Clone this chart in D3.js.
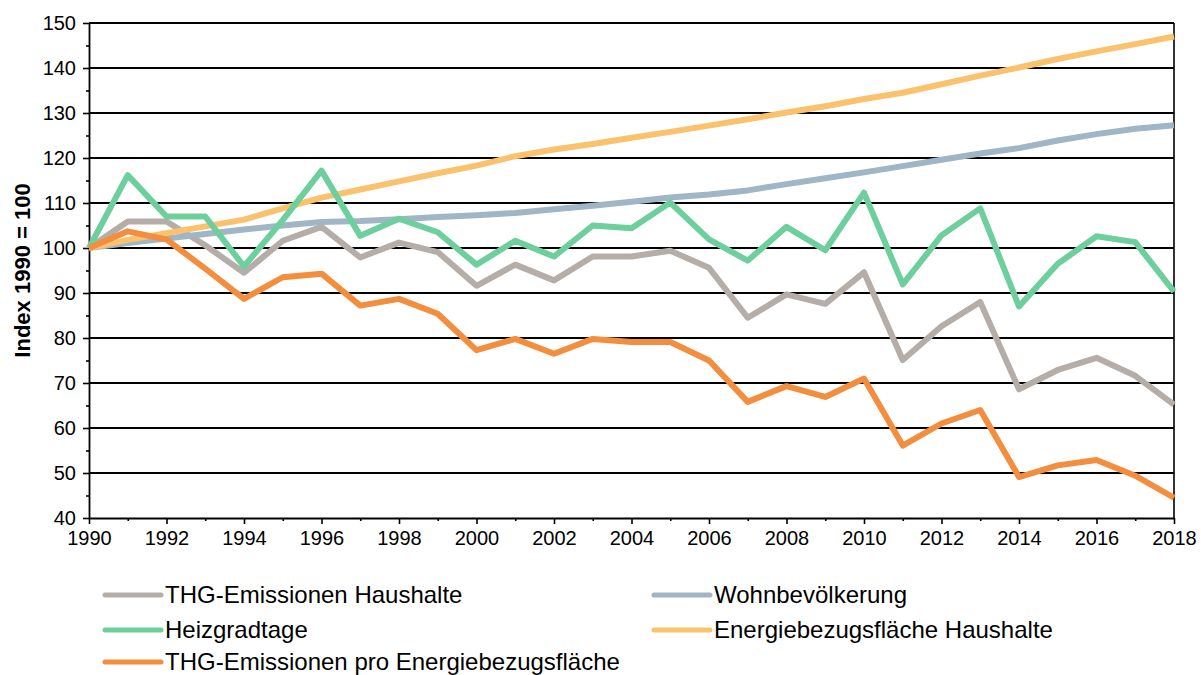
<!DOCTYPE html>
<html>
<head>
<meta charset="utf-8">
<script src="https://cdn.jsdelivr.net/npm/d3@7"></script>
<style>
  body { margin: 0; background: #fff; }
  svg { display: block; font-family: Arial, "Liberation Sans", sans-serif; }
</style>
</head>
<body>
<div id="chart"></div>
<script>
// years 1990..2018, index 1990 = 100
var years = d3.range(1990, 2019);

var thgHaushalte = [100, 105.9, 105.9, 100.6, 94.5, 101.6, 104.7, 97.9, 101.2, 99.1, 91.6, 96.3, 92.8, 98.1, 98.1, 99.4, 95.6, 84.5, 89.7, 87.6, 94.6, 75.1, 82.6, 88.0, 68.6, 72.9, 75.6, 71.6, 65.2];
var wohnbevoelkerung = [100, 101.1, 102.1, 103.1, 104.1, 105.0, 105.8, 106.0, 106.4, 106.9, 107.3, 107.8, 108.6, 109.4, 110.3, 111.2, 111.9, 112.8, 114.2, 115.5, 116.8, 118.2, 119.6, 121.0, 122.2, 123.9, 125.3, 126.5, 127.3];
var heizgradtage = [100, 116.2, 107.0, 107.0, 95.9, 106.2, 117.2, 102.7, 106.5, 103.5, 96.3, 101.6, 98.1, 105.0, 104.4, 110.1, 101.9, 97.2, 104.7, 99.5, 112.3, 91.9, 102.8, 108.8, 87.0, 96.5, 102.6, 101.3, 90.3];
var ebfHaushalte = [100, 101.8, 103.3, 104.8, 106.3, 108.8, 111.2, 113.0, 114.8, 116.6, 118.3, 120.4, 121.9, 123.1, 124.5, 125.8, 127.2, 128.6, 130.1, 131.5, 133.1, 134.5, 136.4, 138.3, 140.1, 142.0, 143.7, 145.3, 147.0];
var thgProEbf = [100, 103.7, 101.9, 95.4, 88.7, 93.5, 94.3, 87.2, 88.7, 85.4, 77.3, 79.8, 76.5, 79.8, 79.1, 79.1, 75.0, 65.8, 69.3, 66.9, 71.0, 56.1, 61.0, 64.0, 49.1, 51.7, 52.9, 49.4, 44.5];

var yTicks = d3.range(40, 151, 10);
var xTicks = d3.range(1990, 2019, 2);

var width = 1201, height = 675;
var margin = { left: 89, right: 27, top: 23, bottom: 157 };

var series = [
  { name: 'THG-Emissionen Haushalte', values: thgHaushalte, color: '#b4ada8' },
  { name: 'Wohnbevölkerung', values: wohnbevoelkerung, color: '#a0b5c6' },
  { name: 'Energiebezugsfläche Haushalte', values: ebfHaushalte, color: '#fbc26e' },
  { name: 'Heizgradtage', values: heizgradtage, color: '#6dcf9c' },
  { name: 'THG-Emissionen pro Energiebezugsfläche', values: thgProEbf, color: '#f28e3d' }
];

var svg = d3.select('#chart').append('svg')
  .attr('width', width)
  .attr('height', height);

var x = d3.scaleLinear()
  .domain([1990, 2018])
  .range([margin.left, width - margin.right]);

var y = d3.scaleLinear()
  .domain([40, 150])
  .range([height - margin.bottom, margin.top]);

// horizontal grid lines
svg.append('g')
  .selectAll('line')
  .data(yTicks.slice(1))
  .enter().append('line')
  .attr('x1', x(1990)).attr('x2', x(2018))
  .attr('y1', function (d) { return y(d); })
  .attr('y2', function (d) { return y(d); })
  .attr('stroke', '#000')
  .attr('stroke-width', 1.8);

// right border
svg.append('line')
  .attr('x1', x(2018)).attr('x2', x(2018))
  .attr('y1', y(150)).attr('y2', y(40))
  .attr('stroke', '#000')
  .attr('stroke-width', 1.6);

// y axis
var yAxis = svg.append('g')
  .attr('transform', 'translate(' + x(1990) + ',0)')
  .call(d3.axisLeft(y).tickValues(yTicks).tickSize(6).tickSizeOuter(0).tickPadding(7));

// minor y ticks
svg.append('g')
  .attr('transform', 'translate(' + x(1990) + ',0)')
  .call(d3.axisLeft(y).tickValues(d3.range(45, 150, 10)).tickSize(3).tickFormat(''))
  .select('.domain').remove();

// x axis
var xAxis = svg.append('g')
  .attr('transform', 'translate(0,' + y(40) + ')')
  .call(d3.axisBottom(x).tickValues(xTicks).tickFormat(d3.format('d')).tickSize(6).tickSizeOuter(0).tickPadding(7));

svg.append('g')
  .attr('transform', 'translate(0,' + y(40) + ')')
  .call(d3.axisBottom(x).tickValues(d3.range(1991, 2018, 2)).tickSize(3).tickFormat(''))
  .select('.domain').remove();

svg.selectAll('.domain').attr('stroke', '#000').attr('stroke-width', 1.8);
svg.selectAll('.tick line').attr('stroke', '#000').attr('stroke-width', 1.6);
yAxis.selectAll('text').attr('font-size', 20).attr('fill', '#000')
  .attr('font-family', 'Arial, "Liberation Sans", sans-serif');
xAxis.selectAll('text').attr('font-size', 20).attr('fill', '#000')
  .attr('font-family', 'Arial, "Liberation Sans", sans-serif');

// y axis title
svg.append('text')
  .attr('transform', 'translate(30,' + ((y(150) + y(40)) / 2) + ') rotate(-90)')
  .attr('text-anchor', 'middle')
  .attr('font-size', 22)
  .attr('font-weight', 'bold')
  .text('Index 1990 = 100');

// lines
var line = d3.line()
  .x(function (d, i) { return x(years[i]); })
  .y(function (d) { return y(d); });

svg.append('g')
  .selectAll('path')
  .data(series)
  .enter().append('path')
  .attr('d', function (d) { return line(d.values); })
  .attr('fill', 'none')
  .attr('stroke', function (d) { return d.color; })
  .attr('stroke-width', 6)
  .attr('stroke-linejoin', 'round');

// legend, in the original row order
var legendItems = [
  { s: series[0], col: 0, row: 0 },
  { s: series[1], col: 1, row: 0 },
  { s: series[3], col: 0, row: 1 },
  { s: series[2], col: 1, row: 1 },
  { s: series[4], col: 0, row: 2 }
];
var colX = [105, 654];
var rowY = [595, 630, 662];

var legend = svg.append('g')
  .selectAll('g')
  .data(legendItems)
  .enter().append('g')
  .attr('transform', function (d) { return 'translate(' + colX[d.col] + ',' + rowY[d.row] + ')'; });

legend.append('line')
  .attr('x1', 0).attr('x2', 56)
  .attr('stroke', function (d) { return d.s.color; })
  .attr('stroke-width', 5)
  .attr('stroke-linecap', 'round');

legend.append('text')
  .attr('x', 60)
  .attr('dy', '0.35em')
  .attr('font-size', 24)
  .attr('fill', '#000')
  .text(function (d) { return d.s.name; });
</script>
</body>
</html>
